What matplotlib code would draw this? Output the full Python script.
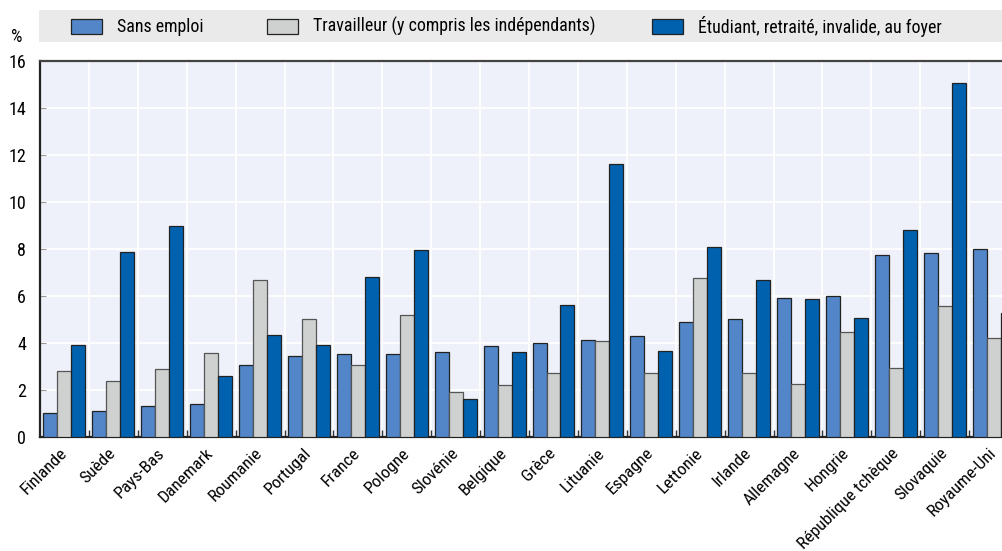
import numpy as np
import matplotlib
matplotlib.use("Agg")
import matplotlib.pyplot as plt
from matplotlib.patches import Rectangle

plt.rcParams['font.family'] = ['Roboto Condensed', 'Archivo Narrow', 'DejaVu Sans']

countries = ["Finlande", "Suède", "Pays-Bas", "Danemark", "Roumanie", "Portugal",
             "France", "Pologne", "Slovénie", "Belgique", "Grèce", "Lituanie",
             "Espagne", "Lettonie", "Irlande", "Allemagne", "Hongrie",
             "République tchèque", "Slovaquie", "Royaume-Uni"]
sans_emploi = [0.99, 1.11, 1.30, 1.39, 3.06, 3.42, 3.50, 3.52, 3.62, 3.84,
               3.97, 4.13, 4.27, 4.88, 5.02, 5.91, 6.00, 7.73, 7.80, 7.99]
travailleur = [2.81, 2.38, 2.87, 3.56, 6.67, 5.02, 3.06, 5.16, 1.90, 2.18,
               2.72, 4.09, 2.70, 6.74, 2.71, 2.23, 4.47, 2.94, 5.57, 4.20]
etudiant = [3.89, 7.86, 8.98, 2.58, 4.31, 3.89, 6.78, 7.94, 1.59, 3.62,
            5.62, 11.62, 3.66, 8.06, 6.67, 5.87, 5.04, 8.78, 15.06, 5.25]
labels = ["Sans emploi", "Travailleur (y compris les indépendants)",
          "Étudiant, retraité, invalide, au foyer"]
colors = ["#5286C8", "#CFD1D0", "#0062AE"]

W, H = 1003, 551
fig = plt.figure(figsize=(W / 100, H / 100), dpi=100)
ax = fig.add_axes([40 / W, 1 - 436.7 / H, 1 - 40 / W, (436.7 - 60.7) / H])
ax.set_facecolor("#EEF1FA")

x = np.arange(len(countries))
bw = 0.286
for k, (vals, col) in enumerate(zip([sans_emploi, travailleur, etudiant], colors)):
    ec = "#555555" if k == 1 else "#222222"
    ax.bar(x + (k - 1) * bw, vals, width=bw, color=col, edgecolor=ec,
           linewidth=0.9, zorder=3)

n = len(countries)
ax.set_yticks(range(0, 17, 2))
ax.set_xticks(x)
ax.set_xticklabels(countries, rotation=45, ha="right", va="center",
                   rotation_mode="anchor", fontsize=12.5)
ax.set_xticks(np.arange(0.5, n - 1, 1.0), minor=True)
# the right end of the chart is cut, as in the original
ax.set_xlim(-0.5, -0.5 + (1003 - 40.1) / 48.9)
ax.set_ylim(0, 16)
ax.tick_params(axis="x", which="major", length=0, pad=10)
ax.tick_params(axis="x", which="minor", direction="in", length=5, width=1,
               color="#333333")
ax.tick_params(axis="y", direction="in", length=4, color="#999999",
               labelsize=13, pad=10)
ax.grid(axis="y", color="white", linewidth=1.3, zorder=1)
ax.grid(axis="x", which="minor", color="white", linewidth=1.3, zorder=1)
ax.set_axisbelow(True)

for side in ["left", "bottom"]:
    ax.spines[side].set_color("#222222")
    ax.spines[side].set_linewidth(1.6)
ax.spines["top"].set_color("#444444")
ax.spines["top"].set_linewidth(1.6)
ax.spines["right"].set_visible(False)

# legend band across the top
fig.patches.append(Rectangle((39 / W, 1 - 42 / H), 1 - 39 / W, 32 / H,
                             transform=fig.transFigure, facecolor="#EAEAEA",
                             edgecolor="none"))
patch_x = [71, 267, 652]
text_x = [117, 313, 698]
for px, tx, col, lab in zip(patch_x, text_x, colors, labels):
    fig.patches.append(Rectangle((px / W, 1 - 34 / H), 31 / W, 15 / H,
                                 transform=fig.transFigure, facecolor=col,
                                 edgecolor="#222222", linewidth=0.9))
    fig.text(tx / W, 1 - 26.5 / H, lab, fontsize=12.9, va="center", ha="left")

fig.text(17 / W, 1 - 37 / H, "%", fontsize=13, ha="center", va="center")

fig.savefig("out.png", dpi=100)
